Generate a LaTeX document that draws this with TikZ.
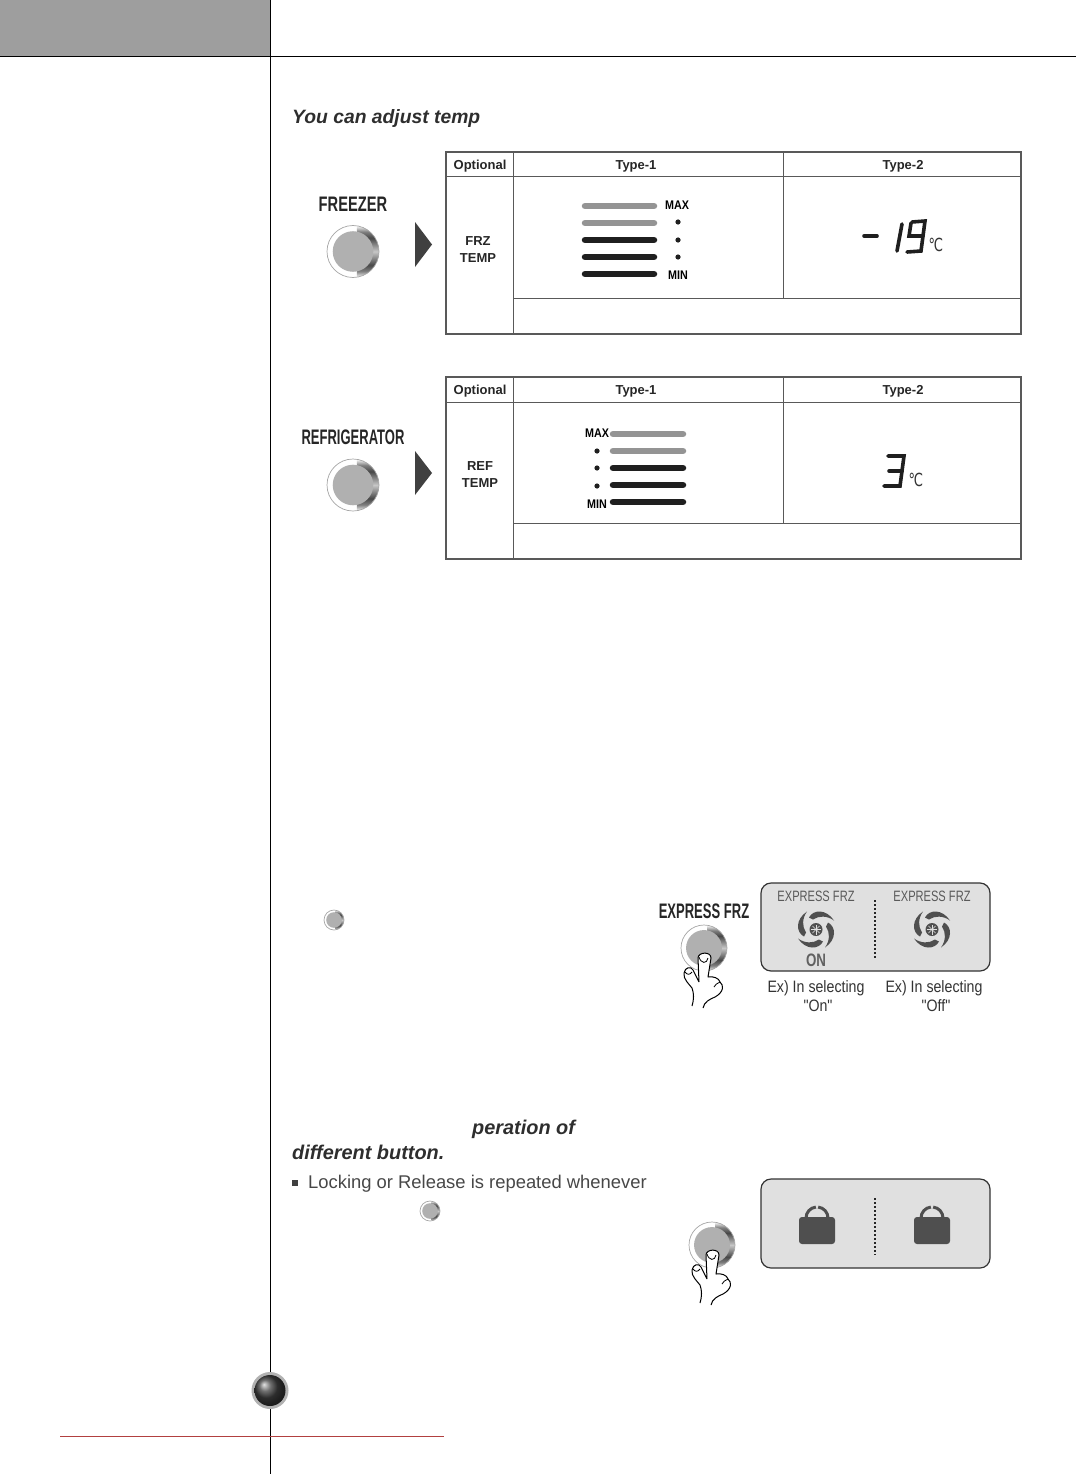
\documentclass[tikz,border=0pt]{standalone}
\usepackage{fontspec}
\setmainfont{Liberation Sans}
\newfontfamily\tightfont[FakeStretch=0.62]{Liberation Sans}
\newfontfamily\freezerfont[FakeStretch=0.70]{Liberation Sans}
\newfontfamily\narrowfont[FakeStretch=0.74]{Liberation Sans}
\newfontfamily\exfont[FakeStretch=0.86]{Liberation Sans}
\newfontfamily\degfont[FakeStretch=0.72]{DejaVu Sans}
\newcommand{\fsize}[1]{\fontsize{#1}{#1}\selectfont}
\definecolor{panelgray}{HTML}{E0E0E0}
\definecolor{darkicon}{HTML}{4F4F4F}
\pgfdeclareverticalshading{metalring}{100bp}{
  color(0bp)=(white); color(25bp)=(white); color(31bp)=(black!50); color(37bp)=(black!72);
  color(44bp)=(black!45); color(50bp)=(black!22); color(56bp)=(black!45); color(63bp)=(black!72);
  color(69bp)=(black!50); color(75bp)=(white); color(100bp)=(white)}
\tikzset{
  tablehead/.style={font=\fsize{13}\bfseries,text=black!85},
  btnlabel/.style={font=\tightfont\fsize{21}\bfseries,text=black!85},
  panellabel/.style={font=\narrowfont\fsize{15},text=black!65},
  exlabel/.style={font=\exfont\fsize{16.5},text=black!80},
  minmax/.style={font=\exfont\fsize{12.5}\bfseries,text=black},
  bodytext/.style={font=\fsize{18.4},text=black!72,anchor=west,inner sep=0pt},
  headline/.style={font=\fsize{19.9}\bfseries\itshape,text=black!82,anchor=west,inner sep=0pt},
  levelbar/.style={line width=6.5pt,line cap=round},
  segline/.style={line width=3.6pt,line cap=round,black!88},
  panelbox/.style={draw=black!80,fill=panelgray,line width=1.2pt,rounded corners=10pt},
  sep/.style={black!85,line width=1.4pt,dash pattern=on 2pt off 2pt}
}
\newcommand{\knob}[3]{
  \fill[white] (#1,#2) circle (#3);
  \begin{scope}
    \clip (#1+0.15*#3,#2-#3) rectangle (#1+#3,#2+#3);
    \shade[shading=metalring] (#1,#2) circle (#3);
  \end{scope}
  \draw[black!35,line width=0.7pt] (#1,#2) circle (#3);
  \fill[black!31] (#1,#2) circle (0.78*#3);
}
\newcommand{\hand}[2]{
  \draw[fill=white,line width=1pt,line join=round,shift={(#1,#2)}] (-5,29) -- (-6,5)
    .. controls (-6,-1) and (7,-2) .. (7,5) -- (4,24)
    .. controls (9,23) and (15,25) .. (16,29)
    .. controls (20,32) and (20,39) .. (11,44)
    .. controls (6,46) and (0,49) .. (-1,55)
    (-12,53) .. controls (-10,47) and (-10,40) .. (-12,35)
    .. controls (-15,31) and (-21,26) .. (-20,20)
    .. controls (-19,14) and (-13,13) .. (-11,17) -- (-5,29);
  \draw[line width=0.8pt,shift={(#1,#2)}] (-5,4) .. controls (-3,11) and (3,11) .. (4,5);
  \draw[line width=0.8pt,shift={(#1,#2)}] (-19,19) .. controls (-17,22) and (-14,22) .. (-12,19);
  \draw[line width=0.8pt,shift={(#1,#2)}] (16,29) .. controls (13,30) and (11,32) .. (10,34);
}
\newcommand{\fanicon}[2]{
  \foreach \ang in {0,90,180,270}{
    \fill[darkicon,shift={(#1,#2)},rotate=\ang] (-7,-12)
      .. controls (-3,-20) and (10,-21) .. (18,-9)
      .. controls (11,-14) and (3,-14) .. (-3,-10)
      -- cycle;
  }
  \fill[darkicon] (#1,#2) circle (6.5);
  \foreach \ang in {0,45,90,135}{
    \draw[panelgray,line width=0.6pt,shift={(#1,#2)},rotate=\ang] (-5,0) -- (5,0);
  }
}
\newcommand{\lockicon}[2]{
  \draw[darkicon,line width=3pt] (#1-11,#2-12) arc (180:264:11);
  \draw[darkicon,line width=3pt] (#1+11,#2-12) arc (360:276:11);
  \fill[darkicon,rounded corners=3pt] (#1-18,#2-13) rectangle (#1+18,#2+14);
}
\begin{document}
\begin{tikzpicture}[x=1pt,y=-1pt]
\useasboundingbox (0,0) rectangle (1076,1474);
\fill[black!38] (0,0) rectangle (270,56.5);
\draw[line width=1pt] (0,56.5) -- (1076,56.5);
\draw[line width=1pt] (270,0) -- (270,1474);
\draw[red!60!black!75,line width=0.7pt] (60,1436.5) -- (444,1436.5);
\fill[black!30] (270,1390.5) circle (18.5);
\shade[ball color=black!75] (270,1390.5) circle (15.5);

\node[headline,font=\fsize{19.3}\bfseries\itshape] (title) at (292,119) {You can adjust temp};

\foreach \ty/\name/\lineA/\lineB/\rowx in {152/frz/FRZ/TEMP/478,377/ref/REF/TEMP/480}{
  \draw[black!65,line width=1.4pt] (446,\ty) rectangle (1021,\ty+182);
  \draw[black!65,line width=1pt] (446,\ty+25) -- (1021,\ty+25);
  \draw[black!65,line width=1pt] (513,\ty) -- (513,\ty+182);
  \draw[black!65,line width=1pt] (783,\ty) -- (783,\ty+146);
  \draw[black!65,line width=1pt] (513,\ty+146) -- (1021,\ty+146);
  \node[tablehead] (opt\name) at (480,\ty+14) {Optional};
  \node[tablehead] (typeone\name) at (636,\ty+14) {Type-1};
  \node[tablehead] (typetwo\name) at (903,\ty+14) {Type-2};
  \node[tablehead] (rowa\name) at (\rowx,\ty+89) {\lineA};
  \node[tablehead] (rowb\name) at (\rowx,\ty+106) {\lineB};
}

\node[btnlabel,font=\freezerfont\fsize{21}\bfseries] (freezer) at (353,204) {FREEZER};
\knob{353}{251.5}{26}
\fill[black!75] (415,222) -- (432,244.5) -- (415,267) -- cycle;
\foreach \by/\col in {206/black!42,223/black!42,240/black!88,257/black!88,274/black!88}{
  \draw[levelbar,\col] (585,\by) -- (654,\by);
}
\foreach \dy in {222,240,257}{
  \fill[black!88] (678,\dy) circle (2.6);
}
\node[minmax] (frzmax) at (677,205) {MAX};
\node[minmax] (frzmin) at (678,275) {MIN};
\draw[segline] (864,236) -- (877,236);
\draw[segline] (902,224) -- (897,251);
\draw[segline] (912,222) -- (925,221) -- (921,251) -- (907,252);
\draw[segline] (911,223) -- (909,236) -- (923,236);
\node[font=\degfont\fsize{18},text=black!80] (frzdeg) at (936,245) {℃};

\node[btnlabel] (refrig) at (353,437) {REFRIGERATOR};
\knob{353}{485}{26}
\fill[black!75] (415,451) -- (432,473) -- (415,495) -- cycle;
\foreach \by/\col in {434/black!42,451/black!42,468/black!88,485/black!88,502/black!88}{
  \draw[levelbar,\col] (613,\by) -- (683,\by);
}
\foreach \dy in {451,468,486}{
  \fill[black!88] (597,\dy) circle (2.6);
}
\node[minmax] (refmax) at (597,433) {MAX};
\node[minmax] (refmin) at (597,504) {MIN};
\draw[segline] (888,456) -- (904,456) -- (900,486) -- (884,486);
\draw[segline] (889,471) -- (902,471);
\node[font=\degfont\fsize{18},text=black!80] (refdeg) at (916,480) {℃};

\knob{334}{920}{10}
\node[btnlabel] (express) at (704,911) {EXPRESS FRZ};
\knob{704}{948}{23}
\hand{704}{953}
\draw[panelbox] (761,883) rectangle (990,971);
\draw[sep] (875,900) -- (875,958);
\node[panellabel] (expa) at (816,896) {EXPRESS FRZ};
\node[panellabel] (expb) at (932,896) {EXPRESS FRZ};
\fanicon{816}{929.5}
\fanicon{932}{929.5}
\node[font=\narrowfont\fsize{18}\bfseries,text=black!62] (onlabel) at (816,960) {ON};
\node[exlabel] (exon) at (816,988) {Ex) In selecting};
\node[exlabel] (exonb) at (818,1006) {"On"};
\node[exlabel] (exoff) at (934,988) {Ex) In selecting};
\node[exlabel] (exoffb) at (936,1006) {"Off"};

\node[headline] (peration) at (472,1129) {peration of};
\node[headline] (different) at (292,1152) {different button.};
\fill[black!75] (292,1180) rectangle (298,1186);
\node[bodytext] (locking) at (308,1184) {Locking or Release is repeated whenever};
\knob{430}{1211}{10}
\knob{712}{1245}{23}
\hand{712}{1250}
\draw[panelbox] (761,1179) rectangle (990,1268);
\draw[sep] (875,1198) -- (875,1255);
\lockicon{817}{1230}
\lockicon{932}{1230}
\end{tikzpicture}
\end{document}
